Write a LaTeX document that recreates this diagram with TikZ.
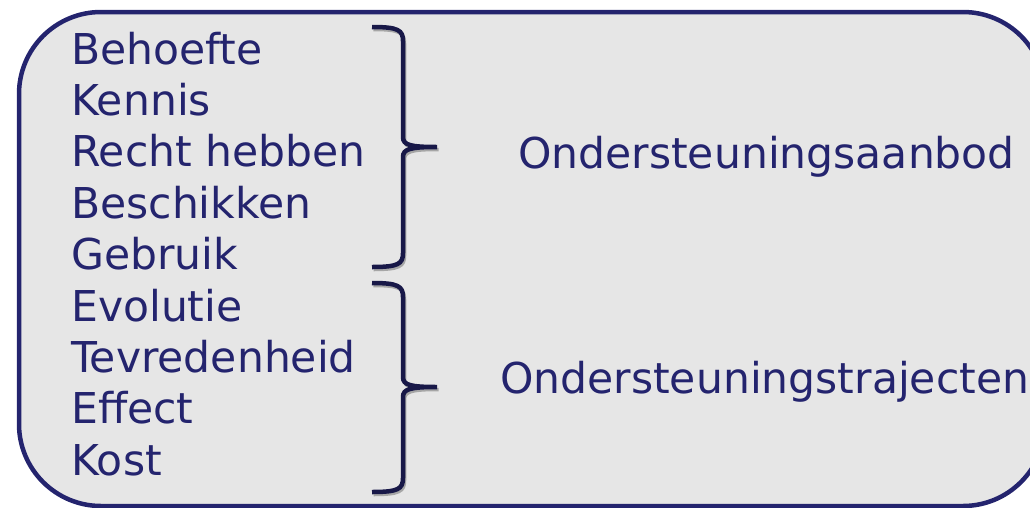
\documentclass[tikz,border=0pt]{standalone}
\usepackage{fontspec}
\setmainfont{DejaVu Sans}
\usepackage{tikz}

\definecolor{navy}{RGB}{36,36,110}
\definecolor{bracecol}{RGB}{24,24,72}
\definecolor{boxfill}{RGB}{230,230,230}

\tikzset{
  frame/.style={draw=navy, line width=4.5pt, fill=boxfill, rounded corners=82pt},
  item/.style={anchor=base west, inner sep=0pt, text=navy, font=\fontsize{42.5}{50}\selectfont},
  group/.style={item},
  bracket/.style={draw=bracecol, line width=4.5pt, line cap=butt},
  bracketshadow/.style={draw=gray!70, line width=3.5pt}
}

% one right-hand brace, top end y=#1, tip y=#2, bottom end y=#3
\newcommand{\bracepath}[3]{(372,#1) .. controls (398,#1) and (403,#1+3) .. (403,#1+14)
  -- (403,#2-10) .. controls (403,#2-2) and (410,#2) .. (437,#2)
  (437,#2) .. controls (410,#2) and (403,#2+2) .. (403,#2+10)
  -- (403,#3-14) .. controls (403,#3-3) and (398,#3) .. (372,#3)}

\begin{document}
\begin{tikzpicture}[x=1pt,y=-1pt]
  \useasboundingbox (0,0) rectangle (1030,507);
  \path[frame] (19,12) rectangle (1045,506);

  % left column
  \foreach \txt [count=\i] in {Behoefte,Kennis,Recht hebben,Beschikken,Gebruik,Evolutie,Tevredenheid,Effect,Kost}
    \node[item] (item-\i) at (71,12.6+51.4*\i) {\txt};

  % braces
  \path[bracketshadow, shift={(1.5,2.5)}] \bracepath{27}{147}{267};
  \path[bracket] \bracepath{27}{147}{267};
  \path[bracketshadow, shift={(1.5,2.5)}] \bracepath{283}{387}{492};
  \path[bracket] \bracepath{283}{387}{492};

  \node[group] (aanbod) at (518,168) {Ondersteuningsaanbod};
  \node[group] (trajecten) at (500,393) {Ondersteuningstrajecten};
\end{tikzpicture}
\end{document}
